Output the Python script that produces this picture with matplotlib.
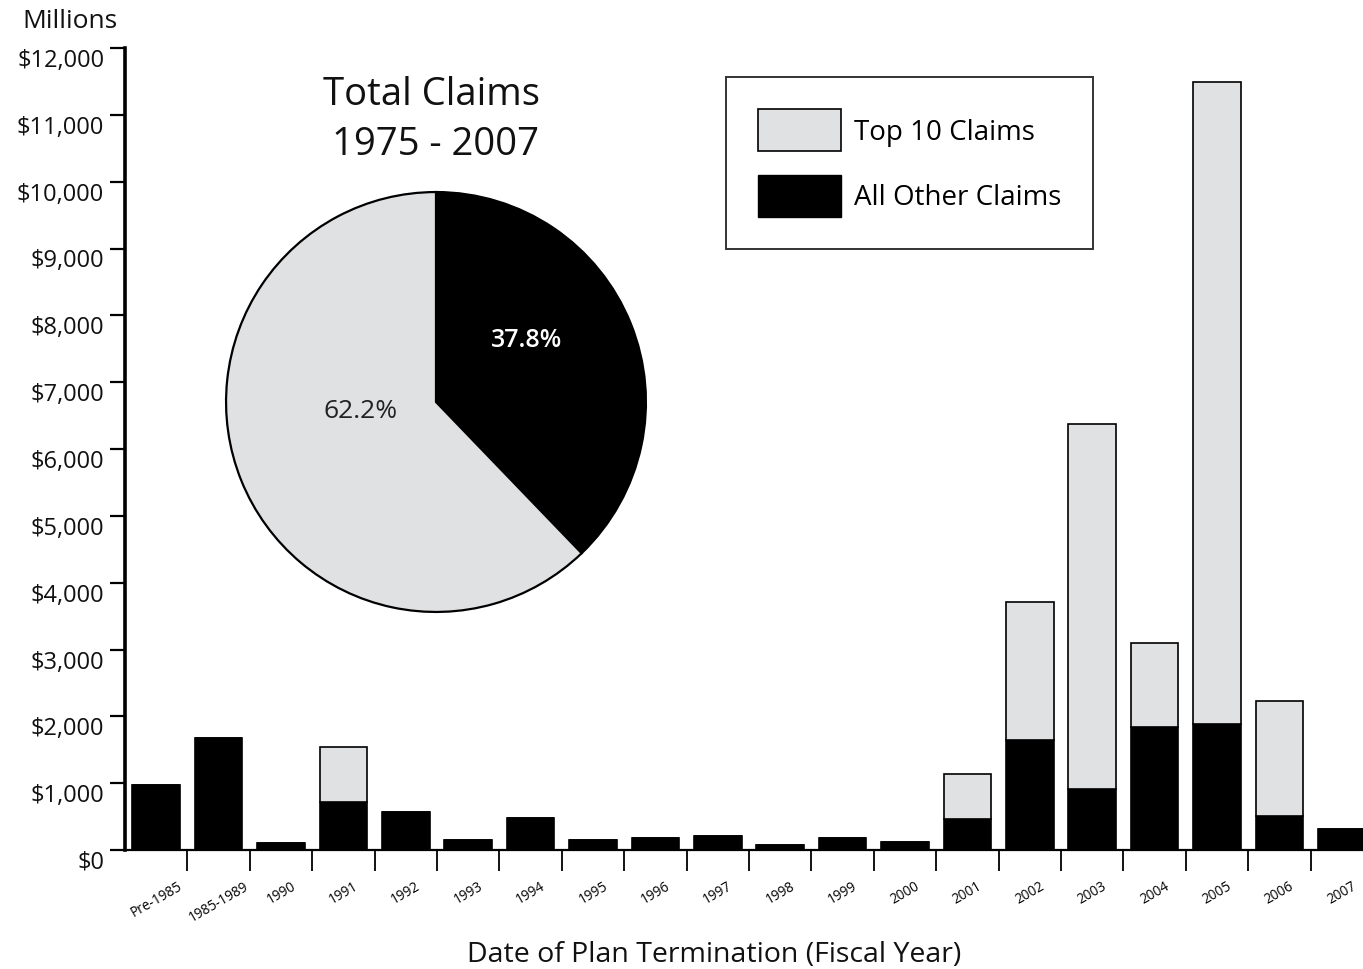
import numpy as np
import matplotlib.pyplot as plt
from matplotlib.patches import Patch

plt.rcParams['font.family'] = 'Open Sans'

years = ["Pre-1985", "1985-1989", "1990", "1991", "1992", "1993", "1994", "1995",
         "1996", "1997", "1998", "1999", "2000", "2001", "2002", "2003", "2004",
         "2005", "2006", "2007"]
# millions of dollars
other = [970, 1680, 100, 720, 570, 150, 480, 150, 180, 210, 75, 180, 120,
         460, 1650, 910, 1840, 1890, 510, 310]
top10 = [0, 0, 0, 820, 0, 0, 0, 0, 0, 0, 0, 0, 0,
         680, 2060, 5460, 1260, 9600, 1720, 0]

pie_shares = [37.8, 62.2]
pie_labels = ["37.8%", "62.2%"]

gray = "#e0e1e3"

fig = plt.figure(figsize=(13.63, 9.70), dpi=100)
ax = fig.add_axes([125/1363, 119/970, 1 - 125/1363, 802/970])

x = np.arange(len(years))
ax.bar(x, other, width=0.76, color="black", edgecolor="black", linewidth=1.2)
ax.bar(x, top10, width=0.76, bottom=other, color=gray, edgecolor="black", linewidth=1.2)

ax.set_xlim(-0.5, 19.34)
ax.set_ylim(0, 12000)

for s in ["top", "right"]:
    ax.spines[s].set_visible(False)
ax.spines["left"].set_linewidth(2.6)
ax.spines["bottom"].set_linewidth(1.6)

yt = np.arange(0, 12001, 1000)
ax.set_yticks(yt)
ax.set_yticklabels(["${:,}".format(v) for v in yt], fontsize=17, va="top", color="#111111")
ax.tick_params(axis="y", length=11, width=1.6, pad=4)

# labels under the bars, tick marks between categories
ax.set_xticks(x)
ax.set_xticklabels(years, fontsize=9.8, rotation=30, ha="center")
ax.tick_params(axis="x", which="major", length=0, pad=20)
ax.set_xticks(x[:-1] + 0.5, minor=True)
ax.tick_params(axis="x", which="minor", length=15, width=1.3)

fig.text(714/1363, 1 - 955/970, "Date of Plan Termination (Fiscal Year)", ha="center",
         va="center", fontsize=20.5, color="#111111")
fig.text(70/1363, 1 - 22/970, "Millions", ha="center", va="center", fontsize=19,
         color="#111111")

leg = ax.legend(handles=[Patch(facecolor=gray, edgecolor="black", linewidth=1.2, label="Top 10 Claims"),
                         Patch(facecolor="black", edgecolor="black", label="All Other Claims")],
                loc="upper left", bbox_to_anchor=(726/1363, 1 - 78/970),
                bbox_transform=fig.transFigure, fontsize=20, frameon=True,
                fancybox=False, edgecolor="black", handlelength=3.0, handleheight=1.95,
                labelspacing=0.85, handletextpad=0.45, borderpad=1.15, borderaxespad=0)
leg.get_frame().set_linewidth(1.4)

# pie inset
r = 211
pax = fig.add_axes([(436 - r)/1363, (970 - 403 - r)/970, 2*r/1363, 2*r/970])
pax.pie(pie_shares, colors=["black", gray], startangle=90, counterclock=False,
        wedgeprops=dict(edgecolor="black", linewidth=1.6))
pax.set_xlim(-1.005, 1.005)
pax.set_ylim(-1.005, 1.005)
pax.set_aspect("equal")
pax.axis("off")
pax.text(0.43, 0.30, pie_labels[0], color="white", fontsize=18, fontweight="semibold",
         ha="center", va="center")
pax.text(-0.36, -0.04, pie_labels[1], color="#222222", fontsize=19, ha="center", va="center")

fig.text(432/1363, 1 - 95/970, "Total Claims", ha="center", va="center", fontsize=27.5,
         color="#111111")
fig.text(436/1363, 1 - 145/970, "1975 - 2007", ha="center", va="center", fontsize=27.5,
         color="#111111")

fig.savefig("out.png", dpi=100)
